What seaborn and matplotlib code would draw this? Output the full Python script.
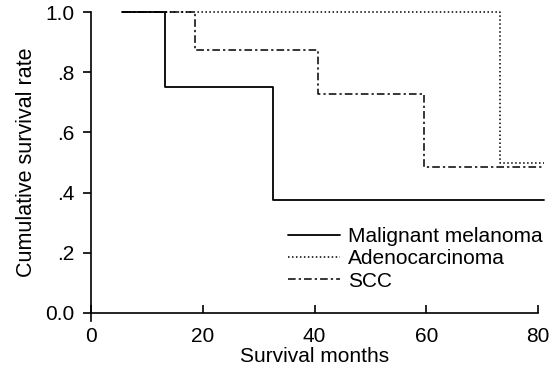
import matplotlib
matplotlib.use("Agg")
import matplotlib.pyplot as plt
import seaborn as sns
import pandas as pd
import numpy as np

# Kaplan-Meier style step data (months, cumulative survival)
mm_months = [5.5, 13.2, 32.5, 81.0]
mm_surv = [1.0, 0.75, 0.375, 0.375]

adeno_months = [5.5, 73.2, 81.0]
adeno_surv = [1.0, 0.5, 0.5]

scc_months = [5.5, 18.6, 40.6, 59.6, 81.0]
scc_surv = [1.0, 0.875, 0.729, 0.486, 0.486]

labels = ["Malignant melanoma", "Adenocarcinoma", "SCC"]
x_ticks = [0, 20, 40, 60, 80]
y_ticks = [0.0, 0.2, 0.4, 0.6, 0.8, 1.0]
y_ticklabels = ["0.0", ".2", ".4", ".6", ".8", "1.0"]

sns.set_theme(style="white")
plt.rcParams["font.family"] = ["Liberation Sans", "DejaVu Sans"]

fig = plt.figure(figsize=(5.56, 3.72), dpi=100)
W, H = 556, 372
left, right, top, bottom = 91, 538, 12, 313
ax = fig.add_axes([left / W, 1 - bottom / H, (right - left) / W, (bottom - top) / H])

df_adeno = pd.DataFrame({"months": adeno_months, "surv": adeno_surv})
df_scc = pd.DataFrame({"months": scc_months, "surv": scc_surv})
df_mm = pd.DataFrame({"months": mm_months, "surv": mm_surv})

sns.lineplot(data=df_adeno, x="months", y="surv", ax=ax, drawstyle="steps-post",
             color="black", linewidth=1.1, linestyle=(0, (1, 1.6)), label=labels[1],
             clip_on=False, estimator=None)
sns.lineplot(data=df_scc, x="months", y="surv", ax=ax, drawstyle="steps-post",
             color="black", linewidth=1.1, linestyle=(0, (5, 2, 1.5, 2)), label=labels[2],
             clip_on=False, estimator=None)
sns.lineplot(data=df_mm, x="months", y="surv", ax=ax, drawstyle="steps-post",
             color="black", linewidth=1.3, linestyle="-", label=labels[0],
             clip_on=False, estimator=None)

ax.set_xlim(0, 80)
ax.set_ylim(0, 1.0)

for s in ["top", "right"]:
    ax.spines[s].set_visible(False)
for s in ["left", "bottom"]:
    ax.spines[s].set_color("black")
    ax.spines[s].set_linewidth(1.2)
    ax.spines[s].set_clip_on(False)
ax.spines["left"].set_bounds(-0.025, 1.0)

ax.set_xticks(x_ticks)
ax.set_xticklabels([str(t) for t in x_ticks])
ax.set_yticks(y_ticks)
ax.set_yticklabels(y_ticklabels)
ax.tick_params(axis="x", direction="in", length=6, width=1.2, colors="black",
               labelsize=15, pad=10)
ax.tick_params(axis="y", direction="out", length=6, width=1.2, colors="black",
               labelsize=15, pad=6)
ax.xaxis.set_ticks_position("bottom")
ax.yaxis.set_ticks_position("left")

ax.set_xlabel("Survival months", fontsize=15, color="black", labelpad=1)
ax.set_ylabel("Cumulative survival rate", fontsize=15.5, color="black", labelpad=6)

handles, labs = ax.get_legend_handles_labels()
order = [labs.index(l) for l in labels]
leg = ax.legend([handles[i] for i in order], [labs[i] for i in order],
                loc="upper left", bbox_to_anchor=(288 / W, 1 - 227 / H),
                bbox_transform=fig.transFigure, frameon=False, fontsize=15,
                handlelength=2.5, handletextpad=0.4, labelspacing=0.16,
                borderpad=0, borderaxespad=0)
for t in leg.get_texts():
    t.set_color("black")

fig.savefig("out.png", dpi=100, facecolor="white")
